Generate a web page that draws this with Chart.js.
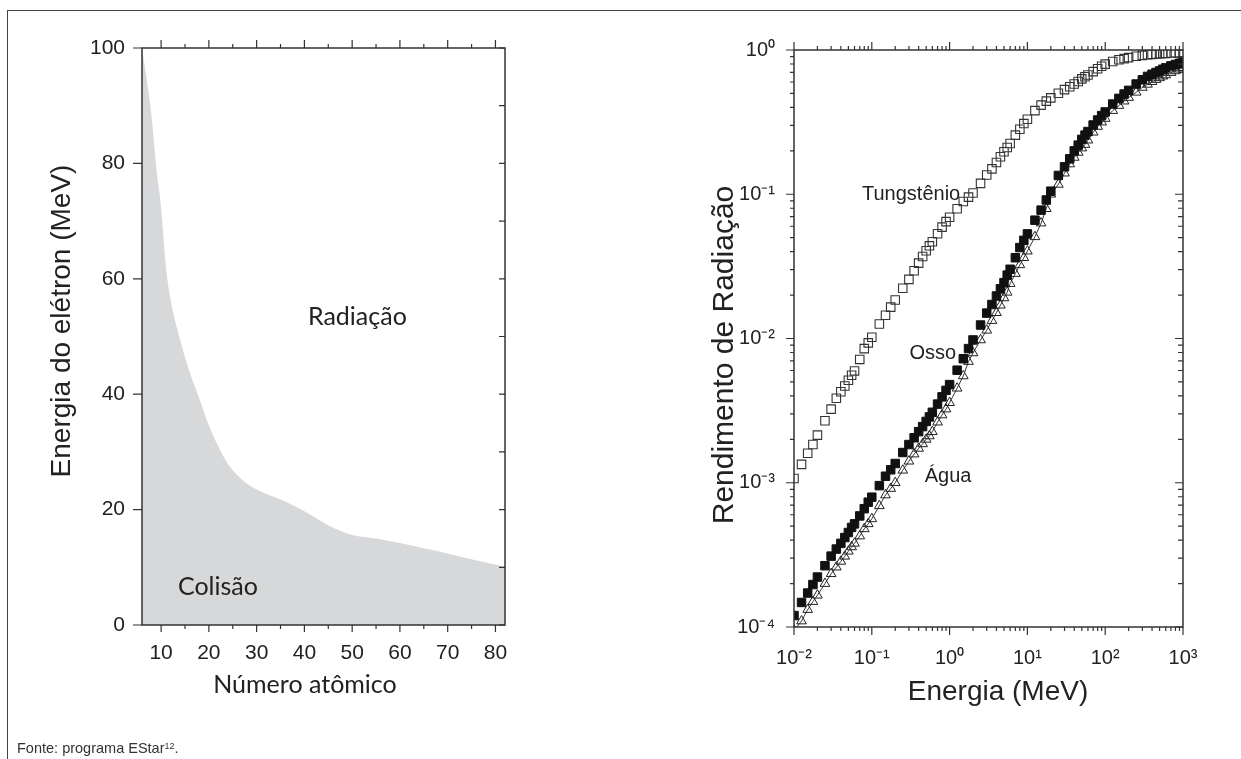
<!DOCTYPE html>
<html><head><meta charset="utf-8">
<script src="https://cdn.jsdelivr.net/npm/chart.js@4/dist/chart.umd.min.js"></script>
<style>
html,body{margin:0;padding:0;background:#fff;width:1241px;height:759px;overflow:hidden;position:relative}
#c1{position:absolute;left:0;top:0}
#c2{position:absolute;left:620px;top:0}
#frameTop{position:absolute;left:7px;top:10px;width:1234px;height:0;border-top:1px solid #444}
#frameLeft{position:absolute;left:7px;top:10px;width:0;height:749px;border-left:1px solid #444}
#fonte{position:absolute;left:17px;top:741px;font-family:'Liberation Sans',Arial,sans-serif;font-size:14.5px;color:#333;line-height:15px;white-space:nowrap}
#fonte sup{font-size:9px;vertical-align:top;position:relative;top:-2px}
</style></head><body>
<canvas id="c1" width="620" height="759"></canvas>
<canvas id="c2" width="621" height="759"></canvas>
<div id="frameTop"></div><div id="frameLeft"></div>
<div id="fonte">Fonte: programa EStar<sup>12</sup>.</div>
<script>
// ---------- Left chart data ----------
const atomicNumber   = [6, 7, 8, 9, 10, 11, 12, 13, 14, 15, 16, 18, 20, 22, 24, 26, 28, 30, 33, 36, 40, 45, 50, 55, 60, 65, 70, 75, 82];
const boundaryEnergy = [100, 94.5, 88.2, 79.2, 72.3, 62.1, 56.3, 52.5, 49.4, 46.4, 43.8, 39.2, 34.6, 30.9, 27.9, 25.9, 24.5, 23.5, 22.4, 21.4, 19.7, 17.3, 15.6, 15.0, 14.2, 13.3, 12.4, 11.4, 10.1];
const leftXTickLabels = [10, 20, 30, 40, 50, 60, 70, 80];
const leftYTickLabels = [0, 20, 40, 60, 80, 100];

// ---------- Right chart data ----------
const energyMeV = [0.01,0.0125,0.015,0.0175,0.02,0.025,0.03,0.035,0.04,0.045,0.05,0.055,0.06,0.07,0.08,0.09,
  0.1,0.125,0.15,0.175,0.2,0.25,0.3,0.35,0.4,0.45,0.5,0.55,0.6,0.7,0.8,0.9,
  1,1.25,1.5,1.75,2,2.5,3,3.5,4,4.5,5,5.5,6,7,8,9,
  10,12.5,15,17.5,20,25,30,35,40,45,50,55,60,70,80,90,
  100,125,150,175,200,250,300,350,400,450,500,550,600,700,800,900,
  1000];
const yieldTungsten = [1.07e-3,1.34e-3,1.60e-3,1.84e-3,2.14e-3,2.69e-3,3.24e-3,3.85e-3,4.27e-3,4.68e-3,5.13e-3,5.56e-3,5.96e-3,7.16e-3,8.51e-3,9.33e-3,
  1.02e-2,1.26e-2,1.45e-2,1.65e-2,1.85e-2,2.23e-2,2.57e-2,2.95e-2,3.33e-2,3.70e-2,4.06e-2,4.39e-2,4.68e-2,5.32e-2,5.92e-2,6.46e-2,
  6.92e-2,7.94e-2,8.91e-2,9.55e-2,0.102,0.119,0.136,0.150,0.166,0.182,0.197,0.211,0.225,0.257,0.282,0.309,
  0.331,0.380,0.415,0.442,0.466,0.501,0.531,0.556,0.581,0.605,0.631,0.652,0.671,0.708,0.741,0.771,
  0.798,0.832,0.855,0.871,0.885,0.906,0.918,0.927,0.933,0.938,0.942,0.946,0.948,0.953,0.955,0.957,
  0.959];
const yieldBone = [1.20e-4,1.48e-4,1.72e-4,1.97e-4,2.22e-4,2.66e-4,3.10e-4,3.47e-4,3.80e-4,4.17e-4,4.52e-4,4.90e-4,5.19e-4,5.89e-4,6.61e-4,7.33e-4,
  7.94e-4,9.55e-4,1.11e-3,1.23e-3,1.36e-3,1.62e-3,1.84e-3,2.05e-3,2.26e-3,2.45e-3,2.66e-3,2.86e-3,3.08e-3,3.51e-3,3.94e-3,4.37e-3,
  4.79e-3,6.03e-3,7.24e-3,8.51e-3,9.77e-3,1.24e-2,1.50e-2,1.72e-2,1.97e-2,2.21e-2,2.44e-2,2.75e-2,3.02e-2,3.63e-2,4.27e-2,4.79e-2,
  5.31e-2,6.61e-2,7.76e-2,9.12e-2,0.105,0.135,0.155,0.176,0.200,0.219,0.240,0.257,0.272,0.302,0.327,0.351,
  0.372,0.422,0.462,0.495,0.525,0.581,0.622,0.656,0.679,0.698,0.716,0.735,0.752,0.776,0.794,0.809,
  0.822];
const yieldWater = [0.95e-4,1.10e-4,1.32e-4,1.50e-4,1.66e-4,2.00e-4,2.34e-4,2.60e-4,2.85e-4,3.09e-4,3.35e-4,3.59e-4,3.80e-4,4.27e-4,4.79e-4,5.19e-4,
  5.62e-4,6.92e-4,8.22e-4,9.12e-4,1.00e-3,1.22e-3,1.41e-3,1.58e-3,1.73e-3,1.86e-3,2.00e-3,2.11e-3,2.26e-3,2.63e-3,2.95e-3,3.24e-3,
  3.59e-3,4.52e-3,5.50e-3,6.92e-3,7.94e-3,9.77e-3,1.14e-2,1.33e-2,1.51e-2,1.70e-2,1.91e-2,2.09e-2,2.40e-2,2.82e-2,3.24e-2,3.63e-2,
  4.03e-2,5.07e-2,6.31e-2,7.94e-2,0.100,0.117,0.140,0.162,0.180,0.195,0.209,0.221,0.237,0.269,0.295,0.316,
  0.335,0.380,0.412,0.442,0.468,0.509,0.550,0.578,0.603,0.624,0.641,0.658,0.671,0.697,0.716,0.736,
  0.754];
const rightXTickExponents = [-2, -1, 0, 1, 2, 3];
const rightYTickExponents = [-4, -3, -2, -1, 0];

// ---------- Styling ----------
const INK = '#222';
const ARIAL = "'Liberation Sans', Arial, Helvetica, sans-serif";
const HUMAN = "Lato, 'Open Sans', sans-serif";
const SUP = {'-':'\u207B','0':'\u2070','1':'\u00B9','2':'\u00B2','3':'\u00B3','4':'\u2074'};
const supText = e => String(e).split('').map(c => SUP[c]).join('');

const framePlugin = {
  id: 'frameTicks',
  afterDatasetsDraw(chart, args, o) {
    const {ctx, chartArea: a} = chart;
    const xs = chart.scales.x, ys = chart.scales.y;
    ctx.save();
    ctx.strokeStyle = o.color;
    ctx.lineWidth = o.tickWidth;
    ctx.beginPath();
    o.xTicks.forEach(t => {
      const p = xs.getPixelForValue(t.v);
      if (t.b) { ctx.moveTo(p, a.bottom); ctx.lineTo(p, a.bottom + t.b); }
      if (t.t) { ctx.moveTo(p, a.top); ctx.lineTo(p, a.top - t.t); }
    });
    o.yTicks.forEach(t => {
      const p = ys.getPixelForValue(t.v);
      if (t.l) { ctx.moveTo(a.left, p); ctx.lineTo(a.left - t.l, p); }
      if (t.r) { ctx.moveTo(a.right, p); ctx.lineTo(a.right - t.r, p); }
    });
    ctx.stroke();
    ctx.lineWidth = o.frameWidth;
    ctx.strokeRect(a.left, a.top, a.right - a.left, a.bottom - a.top);
    ctx.restore();
  }
};

const textPlugin = {
  id: 'texts',
  afterDraw(chart, args, o) {
    const {ctx} = chart;
    o.items.forEach(it => {
      let x = it.x, y = it.y;
      if (it.data) { x = chart.scales.x.getPixelForValue(it.x); y = chart.scales.y.getPixelForValue(it.y); }
      ctx.save();
      ctx.translate(x, y);
      if (it.rot) ctx.rotate(it.rot);
      ctx.font = it.font;
      ctx.fillStyle = it.color || INK;
      ctx.textAlign = it.align || 'center';
      ctx.textBaseline = it.baseline || 'middle';
      ctx.fillText(it.text, 0, 0);
      ctx.restore();
    });
  }
};

// ---------- Left chart ----------
const leftXTickMarks = [];
for (let v = 10; v <= 80; v += 5) leftXTickMarks.push(v % 10 === 0 ? {v, b: 7, t: 8} : {v, b: 4, t: 4});
const leftYTickMarks = [];
for (let v = 0; v <= 100; v += 10) leftYTickMarks.push({v, l: v % 20 === 0 ? 9 : 0, r: 6});

new Chart(document.getElementById('c1'), {
  type: 'line',
  data: { datasets: [{
    data: atomicNumber.map((z, i) => ({x: z, y: boundaryEnergy[i]})),
    fill: 'origin', backgroundColor: '#d7d8da', borderWidth: 0, borderColor: 'rgba(0,0,0,0)',
    pointRadius: 0, cubicInterpolationMode: 'monotone'
  }]},
  options: {
    responsive: false, animation: false, devicePixelRatio: 1,
    layout: {padding: {top: 48, left: 0, right: 115, bottom: 0}},
    plugins: {
      legend: {display: false}, tooltip: {enabled: false},
      frameTicks: {color: '#333', tickWidth: 1.2, frameWidth: 1.5, xTicks: leftXTickMarks, yTicks: leftYTickMarks},
      texts: {items: [
        {text: 'Radiação', data: true, x: 51.1, y: 53.4, font: '25px ' + HUMAN},
        {text: 'Colisão', data: true, x: 21.9, y: 6.6, font: '25px ' + HUMAN},
        {text: 'Energia do elétron (MeV)', x: 70, y: 321, rot: -Math.PI / 2, baseline: 'alphabetic', font: '28px ' + ARIAL},
        {text: 'Número atômico', x: 305, y: 693, baseline: 'alphabetic', font: '25px ' + HUMAN}
      ]}
    },
    scales: {
      x: {type: 'linear', min: 6, max: 82, grid: {display: false}, border: {display: false},
        afterFit: s => { s.height = 134; },
        afterBuildTicks: s => { s.ticks = leftXTickLabels.map(v => ({value: v})); },
        ticks: {autoSkip: false, maxRotation: 0, padding: 8, color: INK, font: {family: ARIAL, size: 21}}},
      y: {type: 'linear', min: 0, max: 100, grid: {display: false}, border: {display: false},
        afterFit: s => { s.width = 142; },
        afterBuildTicks: s => { s.ticks = leftYTickLabels.map(v => ({value: v})); },
        ticks: {autoSkip: false, padding: 9, color: INK, font: {family: ARIAL, size: 21}}}
    }
  },
  plugins: [framePlugin, textPlugin]
});

// ---------- Right chart ----------
const rightXTickMarks = [];
for (let e = -2; e <= 3; e++) for (let m = 1; m <= 9; m++) {
  if (e === 3 && m > 1) break;
  rightXTickMarks.push(m === 1 ? {v: m * Math.pow(10, e), b: 8, t: 8} : {v: m * Math.pow(10, e), b: 4, t: 4});
}
const rightYTickMarks = [];
for (let e = -4; e <= 0; e++) for (let m = 1; m <= 9; m++) {
  if (e === 0 && m > 1) break;
  rightYTickMarks.push(m === 1 ? {v: m * Math.pow(10, e), l: 8, r: 8} : {v: m * Math.pow(10, e), l: 4, r: 5});
}
const pts = arr => energyMeV.map((e, i) => ({x: e, y: arr[i]}));

new Chart(document.getElementById('c2'), {
  type: 'line',
  data: { datasets: [
    {label: 'Osso', data: pts(yieldBone), showLine: false, pointStyle: 'rect', pointRadius: 6,
      pointBackgroundColor: '#111', pointBorderColor: '#111', pointBorderWidth: 1},
    {label: 'Água', data: pts(yieldWater), showLine: true, borderColor: '#222', borderWidth: 0.9,
      pointStyle: 'triangle', pointRadius: 5.6, pointBackgroundColor: 'rgba(0,0,0,0)', pointBorderColor: '#222', pointBorderWidth: 1},
    {label: 'Tungstênio', data: pts(yieldTungsten), showLine: false, pointStyle: 'rect', pointRadius: 6,
      pointBackgroundColor: 'rgba(0,0,0,0)', pointBorderColor: '#333', pointBorderWidth: 1.1}
  ]},
  options: {
    responsive: false, animation: false, devicePixelRatio: 1,
    layout: {padding: {top: 50, left: 0, right: 58, bottom: 0}},
    plugins: {
      legend: {display: false}, tooltip: {enabled: false},
      frameTicks: {color: '#333', tickWidth: 1.2, frameWidth: 1.5, xTicks: rightXTickMarks, yTicks: rightYTickMarks},
      texts: {items: [
        {text: 'Tungstênio', data: true, x: 0.32, y: 0.099, font: '20px ' + ARIAL},
        {text: 'Osso', data: true, x: 0.61, y: 7.9e-3, font: '20px ' + ARIAL},
        {text: 'Água', data: true, x: 0.955, y: 1.11e-3, font: '20px ' + ARIAL},
        {text: 'Rendimento de Radiação', x: 113, y: 355, rot: -Math.PI / 2, baseline: 'alphabetic', font: '30px ' + ARIAL},
        {text: 'Energia (MeV)', x: 378, y: 700, baseline: 'alphabetic', font: '28px ' + ARIAL}
      ]}
    },
    scales: {
      x: {type: 'logarithmic', min: 0.01, max: 1000, grid: {display: false}, border: {display: false},
        afterFit: s => { s.height = 132; },
        afterBuildTicks: s => { s.ticks = rightXTickExponents.map(e => ({value: Math.pow(10, e)})); },
        ticks: {autoSkip: false, maxRotation: 0, padding: 11, color: INK, font: {family: ARIAL, size: 20},
          callback: v => '10' + supText(Math.round(Math.log10(v)))}},
      y: {type: 'logarithmic', min: 1e-4, max: 1, grid: {display: false}, border: {display: false},
        afterFit: s => { s.width = 174; },
        afterBuildTicks: s => { s.ticks = rightYTickExponents.map(e => ({value: Math.pow(10, e)})); },
        ticks: {autoSkip: false, padding: 11, color: INK, font: {family: ARIAL, size: 20},
          callback: v => '10' + supText(Math.round(Math.log10(v)))}}
    }
  },
  plugins: [framePlugin, textPlugin]
});
</script>
</body></html>
